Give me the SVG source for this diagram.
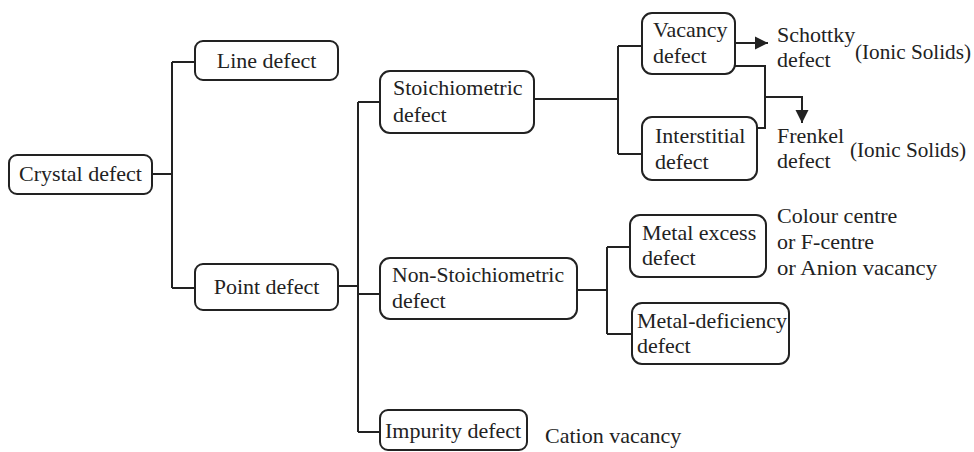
<svg xmlns="http://www.w3.org/2000/svg" width="974" height="452" viewBox="0 0 974 452">
<defs>
<style>
.box{fill:#fff;stroke:#222;stroke-width:2}
.ln{fill:none;stroke:#222;stroke-width:2}
text{font-family:"Liberation Serif","Times New Roman",serif;font-size:22px;fill:#222}
.c{text-anchor:middle}
</style>
<marker id="ah" markerUnits="userSpaceOnUse" markerWidth="14" markerHeight="14" refX="13" refY="7" orient="auto">
<path d="M0,0.5 L13,7 L0,13.5 z" fill="#222"/>
</marker>
</defs>
<rect width="974" height="452" fill="#fff"/>
<g id="connectors">
<path class="ln" d="M152,174 H172 M172,62 V288 M172,62 H195 M172,288 H195"/>
<path class="ln" d="M338,286 H358 M358,102 V432 M358,102 H380 M358,294 H380 M358,432 H380"/>
<path class="ln" d="M534,99 H618 M618,46 V154 M618,46 H642 M618,154 H642"/>
<path class="ln" d="M735,43 H768" marker-end="url(#ah)"/>
<path class="ln" d="M735,66 H765 V128 H757"/>
<path class="ln" d="M765,97 H802 V123" marker-end="url(#ah)"/>
<path class="ln" d="M577,290 H607 M607,247 V334 M607,247 H630 M607,334 H632"/>
</g>
<g id="crystal">
<rect class="box" x="9" y="155" width="143" height="39" rx="8"/>
<text class="c" x="80.5" y="181">Crystal defect</text>
</g>
<g id="line">
<rect class="box" x="195" y="41" width="143" height="39" rx="8"/>
<text class="c" x="266.5" y="68">Line defect</text>
</g>
<g id="point">
<rect class="box" x="195" y="264" width="143" height="46" rx="8"/>
<text class="c" x="266.5" y="294">Point defect</text>
</g>
<g id="stoich">
<rect class="box" x="380" y="71" width="154" height="62" rx="10"/>
<text x="393" y="95">Stoichiometric</text>
<text x="393" y="122">defect</text>
</g>
<g id="nonstoich">
<rect class="box" x="380" y="258" width="197" height="61" rx="10"/>
<text x="392" y="282" textLength="172" lengthAdjust="spacingAndGlyphs">Non-Stoichiometric</text>
<text x="392" y="308">defect</text>
</g>
<g id="impurity">
<rect class="box" x="380" y="410" width="147" height="40" rx="8"/>
<text x="385" y="438">Impurity defect</text>
</g>
<g id="vacancy">
<rect class="box" x="642" y="13" width="93" height="61" rx="10"/>
<text x="653" y="37">Vacancy</text>
<text x="653" y="63">defect</text>
</g>
<g id="interstitial">
<rect class="box" x="642" y="117" width="115" height="63" rx="10"/>
<text x="655" y="143">Interstitial</text>
<text x="655" y="169">defect</text>
</g>
<g id="metalexcess">
<rect class="box" x="630" y="215" width="136" height="62" rx="10"/>
<text x="642" y="240">Metal excess</text>
<text x="642" y="265">defect</text>
</g>
<g id="metaldef">
<rect class="box" x="632" y="303" width="157" height="61" rx="10"/>
<text x="637" y="328" textLength="150" lengthAdjust="spacingAndGlyphs">Metal-deficiency</text>
<text x="637" y="353">defect</text>
</g>
<g id="labels">
<text x="777" y="42">Schottky</text>
<text x="777" y="67">defect</text>
<text x="855" y="59" textLength="116" lengthAdjust="spacingAndGlyphs">(Ionic Solids)</text>
<text x="777" y="143">Frenkel</text>
<text x="777" y="168">defect</text>
<text x="850" y="157" textLength="116" lengthAdjust="spacingAndGlyphs">(Ionic Solids)</text>
<text x="777" y="223">Colour centre</text>
<text x="777" y="249">or F-centre</text>
<text x="777" y="275" textLength="160" lengthAdjust="spacingAndGlyphs">or Anion vacancy</text>
<text x="545" y="443">Cation vacancy</text>
</g>
</svg>
